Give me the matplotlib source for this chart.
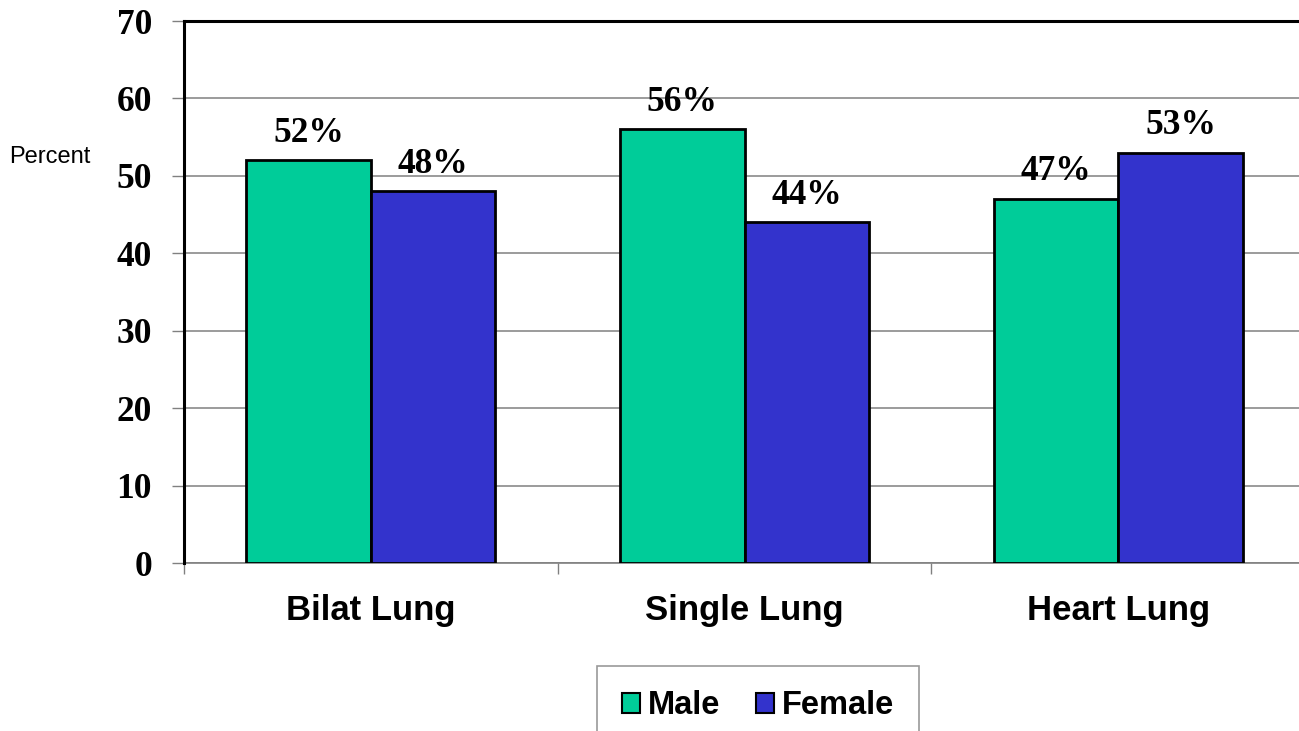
import matplotlib
matplotlib.use("Agg")
import matplotlib.pyplot as plt
import numpy as np
from matplotlib.patches import Patch

categories = ["Bilat Lung", "Single Lung", "Heart Lung"]
male = [52, 56, 47]
female = [48, 44, 53]
series_names = ["Male", "Female"]
yticks = [0, 10, 20, 30, 40, 50, 60, 70]

green = "#00CC99"
blue = "#3333CC"

W, H = 1299, 731
fig = plt.figure(figsize=(W / 100, H / 100), dpi=100)
ax = fig.add_axes([184 / W, (H - 563) / H, (1305 - 184) / W, (563 - 21) / H])

x = np.arange(len(categories))
bw = 1 / 3
bars_m = ax.bar(x - bw / 2, male, width=bw, color=green, edgecolor="black",
                linewidth=2, zorder=3)
bars_f = ax.bar(x + bw / 2, female, width=bw, color=blue, edgecolor="black",
                linewidth=2, zorder=3)

label_font = dict(family="Liberation Serif", weight="bold", size=25.5)
for bars, vals in ((bars_m, male), (bars_f, female)):
    for b, v in zip(bars, vals):
        ax.annotate(f"{v}%", (b.get_x() + b.get_width() / 2, v),
                    xytext=(0, 13.5), textcoords="offset points",
                    ha="center", va="baseline", **label_font)

ax.set_xlim(-0.5, len(categories) - 0.5)
ax.set_ylim(yticks[0], yticks[-1])
ax.set_yticks(yticks)
ax.set_yticklabels([str(t) for t in yticks], fontdict=label_font)
ax.yaxis.grid(True, color="#808080", linewidth=1.1, zorder=0)

# category boundaries carry the tick marks, centres carry the labels
ax.set_xticks(np.arange(len(categories) + 1) - 0.5)
ax.set_xticklabels([])
ax.set_xticks(x, minor=True)
ax.set_xticklabels(categories, minor=True, family="Liberation Sans",
                   weight="bold", size=25)
ax.tick_params(axis="x", which="minor", length=0, pad=22)
ax.tick_params(axis="x", which="major", length=8, width=1, color="#808080")
ax.tick_params(axis="y", length=9, width=1, color="#808080", pad=14)

for side in ("top", "left"):
    ax.spines[side].set_color("black")
    ax.spines[side].set_linewidth(2.2)
ax.spines["bottom"].set_color("#808080")
ax.spines["bottom"].set_linewidth(1.2)
ax.spines["right"].set_visible(False)
ax.spines["top"].set_zorder(4)
ax.spines["left"].set_zorder(4)

fig.text(50 / W, 1 - 157 / H, "Percent", family="Liberation Sans",
         size=17, ha="center", va="center")

handles = [Patch(facecolor=green, edgecolor="black", linewidth=1.5),
           Patch(facecolor=blue, edgecolor="black", linewidth=1.5)]
leg = fig.legend(handles, series_names, loc="center",
                 bbox_to_anchor=(758 / W, 1 - 706 / H), ncol=2,
                 frameon=True, fancybox=False, edgecolor="#808080",
                 prop=dict(family="Liberation Sans", weight="bold", size=23.5),
                 handlelength=0.55, handleheight=0.55, handletextpad=0.25,
                 columnspacing=1.1, borderpad=0.75, borderaxespad=0)
leg.get_frame().set_linewidth(1.2)

fig.savefig("out.png", dpi=100)
